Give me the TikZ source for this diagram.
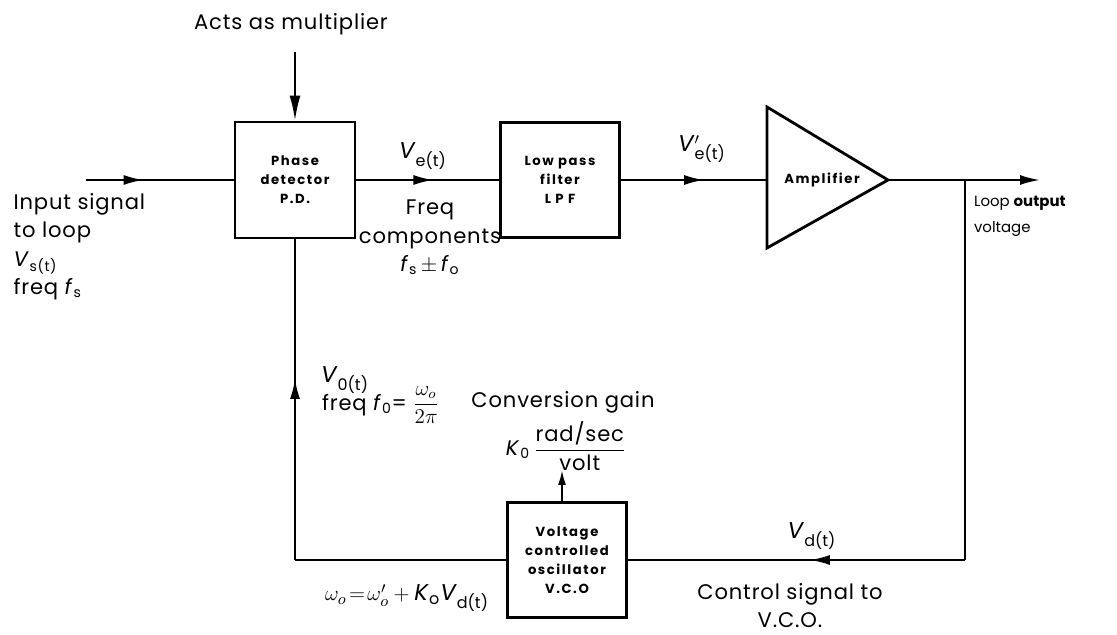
\documentclass[tikz,border=0pt]{standalone}
\usepackage{fontspec}
\setmainfont{Poppins}
\usetikzlibrary{arrows.meta,calc,decorations.markings,positioning}

\newcommand{\blkfont}{\fontsize{7.5}{10.8}\selectfont\bfseries\addfontfeature{LetterSpace=12}}
\newcommand{\lblfont}{\fontsize{12}{16.2}\selectfont\addfontfeature{LetterSpace=4}}
\tikzset{
  blk/.style={draw,line width=1.6pt,align=center,font=\blkfont,inner sep=2pt},
  lbl/.style={font=\lblfont,inner sep=0pt},
  slbl/.style={font=\fontsize{8.5}{15}\selectfont,inner sep=0pt},
  vlbl/.style={font=\fontsize{13}{15}\selectfont,inner sep=0pt},
  midarrow/.style={decoration={markings,mark=at position #1 with {\arrow{>}}},postaction={decorate}},
}

\begin{document}
\begin{tikzpicture}[>={Latex[length=4mm,width=2mm]},line width=1.2pt]
\useasboundingbox (0,0) rectangle (22.34,12.7);

% blocks
\node[blk,minimum width=2.4cm,minimum height=2.32cm] (pd) at (5.9,9.1) {Phase\\detector\\P.D.};
\node[blk,minimum width=2.38cm,minimum height=2.3cm] (lpf) at (11.2,9.1) {Low pass\\filter\\L P F};
\node[blk,minimum width=2.38cm,minimum height=2.3cm] (vco) at (11.34,1.5) {Voltage\\controlled\\oscillator\\V.C.O};

% amplifier
\coordinate (ampin) at (15.34,9.1);
\coordinate (ampout) at (17.76,9.1);
\draw[line width=1.6pt] ($(ampin)+(0,1.46)$) -- (ampout) -- ($(ampin)+(0,-1.36)$) -- cycle;
\node[blk,draw=none] (amp) at (16.44,9.1) {Amplifier};

% loop points
\coordinate (in) at (1.72,9.1);
\coordinate (top) at (5.9,11.66);
\coordinate (out) at (20.8,9.1);
\coordinate (tap) at (19.3,9.1);
\coordinate (tapdown) at (19.3,1.5);
\coordinate (back) at (5.9,1.5);
\coordinate (gainin) at (11.24,3.3);

% connectors
\draw[-{Latex[length=5mm,width=2.2mm]}] (top) -- (pd);
\draw[midarrow=0.39] (in) -- (pd);
\draw[midarrow=0.54] (pd) -- (lpf);
\draw[midarrow=0.57] (lpf) -- (ampin);
\draw[->] (ampout) -- (out);
\draw (tap) -- (tapdown);
\draw[midarrow=0.46] (tapdown) -- (vco);
\draw (vco) -- (back);
\draw[midarrow=0.565] (back) -- (pd);
\draw[-{Latex[length=3mm,width=1.6mm]}] (gainin |- vco.north) -- (gainin);

% labels
\node[lbl] (mult) at (5.82,12.22) {Acts as multiplier};
\node[lbl,anchor=north west,align=left] (insig) at (0.25,8.86) {Input signal\\to loop\\\textit{V}\textsubscript{s(t)}\\freq \textit{f}\textsubscript{s}};
\node[vlbl] (ve) at (8.46,9.58) {\textit{V}\textsubscript{e(t)}};
\node[lbl,anchor=north,align=center] (freq) at (8.6,8.72) {Freq\\components\\\textit{f}\textsubscript{s}\,$\pm$\,\textit{f}\textsubscript{o}};
\node[vlbl] (vep) at (14.04,9.72) {\textit{V}\rlap{$^{\prime}$}\textsubscript{e(t)}};
\node[slbl,anchor=north west,align=left] (outv) at (19.46,8.8) {Loop \textbf{output}\\voltage};
\node[vlbl] (vd) at (16.24,1.98) {\textit{V}\textsubscript{d(t)}};
\node[lbl,anchor=north,align=center] (ctrl) at (15.8,1.06) {Control signal to\\V.C.O.};
\node[vlbl,anchor=west] (vo) at (6.4,5.1) {\textit{V}\textsubscript{0(t)}};
\node[lbl,anchor=west] (freqo) at (6.42,4.6) {freq \textit{f}\textsubscript{0}=};
\node[lbl,right=2pt of freqo] (wfrac) {$\displaystyle\frac{\omega_o}{2\pi}$};
\node[lbl] (gain) at (11.26,4.66) {Conversion gain};
\node[lbl] (kfrac) at (11.32,3.78) {\textit{K}\textsubscript{0}\,$\displaystyle\frac{\mbox{rad/sec}}{\mbox{volt}}$};
\node[vlbl] (omega) at (8.14,0.74) {$\omega_o\!=\!\omega'_o+{}$\textit{K}\textsubscript{o}\textit{V}\textsubscript{d(t)}};
\end{tikzpicture}
\end{document}
